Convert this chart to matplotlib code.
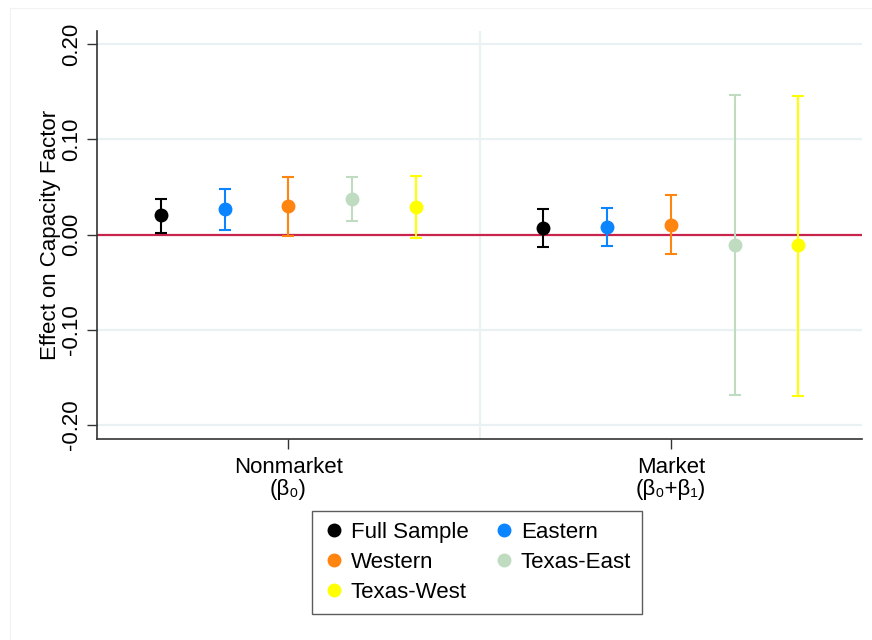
import matplotlib.pyplot as plt
from matplotlib.lines import Line2D

plt.rcParams['font.family'] = ['Liberation Sans', 'DejaVu Sans']

groups = ['Full Sample', 'Eastern', 'Western', 'Texas-East', 'Texas-West']
colors = ['black', '#0a84ff', '#ff8410', '#c0dcc0', '#ffff00']

# point estimates and 95% CI bounds, nonmarket (b0) then market (b0+b1)
nonmarket_est = [0.020, 0.027, 0.030, 0.037, 0.029]
nonmarket_lo = [0.002, 0.005, -0.002, 0.014, -0.0035]
nonmarket_hi = [0.0375, 0.048, 0.0605, 0.060, 0.061]

market_est = [0.007, 0.008, 0.0105, -0.0115, -0.0115]
market_lo = [-0.013, -0.012, -0.020, -0.1686, -0.1697]
market_hi = [0.027, 0.028, 0.041, 0.146, 0.1455]

xticklabels = ['Nonmarket\n(β₀)', 'Market\n(β₀+β₁)']
yticks = [-0.2, -0.1, 0.0, 0.1, 0.2]

fig = plt.figure(figsize=(8.72, 6.4), dpi=100)
ax = fig.add_axes([97 / 872, 1 - 439 / 640, 765 / 872, 408 / 640])

# faint outer frame of the graph region
fig.add_artist(Line2D([10 / 872, 10 / 872], [0, 1 - 8 / 640], transform=fig.transFigure,
                      color='#f2f2f2', lw=0.8))
fig.add_artist(Line2D([10 / 872, 1], [1 - 8 / 640, 1 - 8 / 640], transform=fig.transFigure,
                      color='#f2f2f2', lw=0.8))

for y in yticks:
    if y != 0:
        ax.axhline(y, color='#eaf1f3', lw=1.6, zorder=0)
ax.axvline(6, color='#eaf1f3', lw=1.6, zorder=0)
ax.axhline(0, color='#c8244c', lw=1.6, zorder=1)

for i in range(len(groups)):
    for xpos, est, lo, hi in [(1 + i, nonmarket_est[i], nonmarket_lo[i], nonmarket_hi[i]),
                              (7 + i, market_est[i], market_lo[i], market_hi[i])]:
        ax.errorbar(xpos, est, yerr=[[est - lo], [hi - est]], fmt='o', color=colors[i],
                    ms=9, elinewidth=1.5, capsize=4.5, capthick=1.5, zorder=3)

ax.set_xlim(0, 12)
ax.set_ylim(-0.2147, 0.2137)
ax.set_xticks([3, 9])
ax.set_xticklabels(xticklabels, fontsize=16, linespacing=1.05)
ax.set_yticks(yticks)
ax.set_yticklabels(['%.2f' % v for v in yticks], rotation=90, va='center', fontsize=16)
ax.tick_params(axis='both', length=7, width=1, color='#333333', pad=4)
ax.tick_params(axis='x', pad=6)
ax.set_ylabel('Effect on Capacity Factor', fontsize=16, labelpad=0)

for s in ['top', 'right']:
    ax.spines[s].set_visible(False)
for s in ['left', 'bottom']:
    ax.spines[s].set_color('#333333')
    ax.spines[s].set_linewidth(1.2)

handles = [Line2D([], [], marker='o', ls='', color=c, ms=9) for c in colors]
order = [0, 2, 4, 1, 3]
leg = fig.legend([handles[k] for k in order], [groups[k] for k in order], ncol=2,
                 loc='upper left', bbox_to_anchor=(312 / 872, 1 - 511 / 640), borderaxespad=0,
                 fontsize=16, frameon=True, fancybox=False, handletextpad=0.25,
                 handlelength=1.0, columnspacing=1.1, labelspacing=0.4, borderpad=0.5)
leg.get_frame().set_edgecolor('#333333')
leg.get_frame().set_linewidth(1.0)

fig.savefig('out.png', dpi=100)
